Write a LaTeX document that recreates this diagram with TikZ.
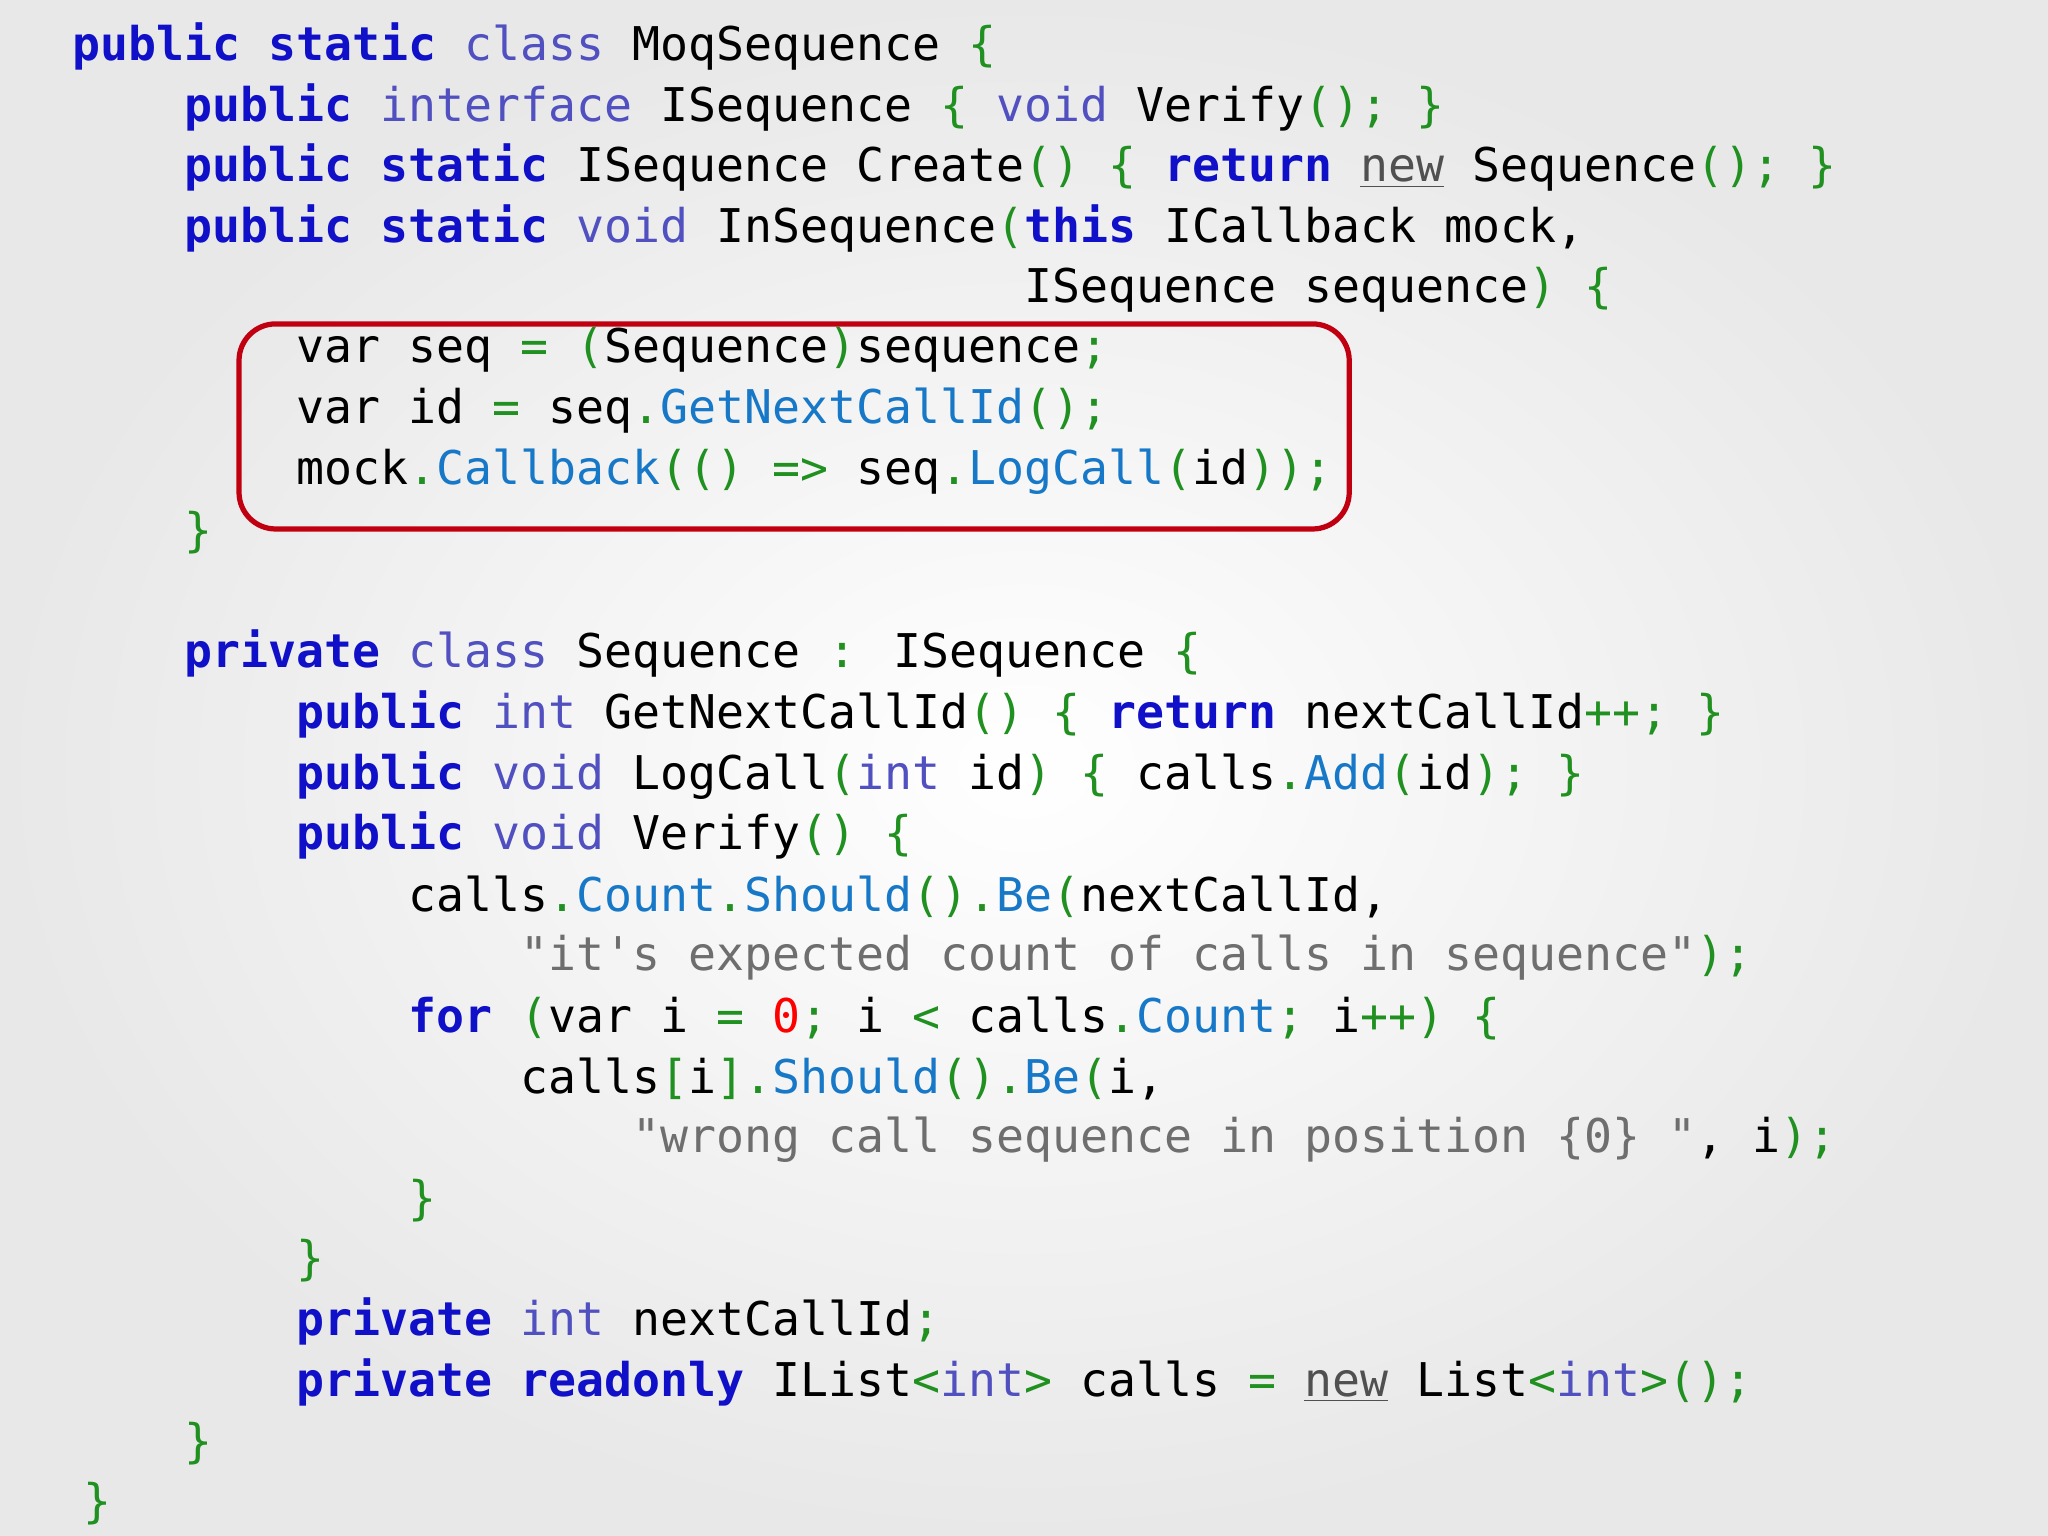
\documentclass[tikz,border=0pt]{standalone}
\usepackage{fontspec}
\newfontfamily\codefont{DejaVu Sans Mono}
\definecolor{kw}{HTML}{1010C8}
\definecolor{ty}{HTML}{5050C0}
\definecolor{me}{HTML}{1878C8}
\definecolor{pu}{HTML}{209020}
\definecolor{st}{HTML}{6E6E6E}
\definecolor{nw}{HTML}{505050}
\definecolor{bx}{HTML}{C00010}
\newcommand\Kw[1]{\textcolor{kw}{\bfseries #1}}
\newcommand\Ty[1]{\textcolor{ty}{#1}}
\newcommand\Me[1]{\textcolor{me}{#1}}
\newcommand\Pu[1]{\textcolor{pu}{#1}}
\newcommand\St[1]{\textcolor{st}{#1}}
\newcommand\Nw{\textcolor{nw}{\underline{new}}}
\newcommand\CodeLn[3]{\node[ln] (l#1) at ({55+#2*21.45},{35.5+#1*46.5}) {#3};}
\begin{document}
\begin{tikzpicture}[x=0.5pt,y=-0.5pt,
  ln/.style={anchor=west,inner sep=0pt,font=\codefont\fontsize{17.8}{20}\selectfont}]
\shade[inner color=white,outer color=gray!18] (0,0) rectangle (1568,1176);
\useasboundingbox (0,0) rectangle (1568,1176);
\CodeLn{0}{0}{\Kw{public} \Kw{static} \Ty{class} MoqSequence \Pu{\{}}
\CodeLn{1}{4}{\Kw{public} \Ty{interface} ISequence \Pu{\{} \Ty{void} Verify\Pu{();} \Pu{\}}}
\CodeLn{2}{4}{\Kw{public} \Kw{static} ISequence Create\Pu{()} \Pu{\{} \Kw{return} \Nw{} Sequence\Pu{();} \Pu{\}}}
\CodeLn{3}{4}{\Kw{public} \Kw{static} \Ty{void} InSequence\Pu{(}\Kw{this} ICallback mock,}
\CodeLn{4}{34}{ISequence sequence\Pu{)} \Pu{\{}}
\CodeLn{5}{8}{var seq \Pu{=} \Pu{(}Sequence\Pu{)}sequence\Pu{;}}
\CodeLn{6}{8}{var id \Pu{=} seq\Pu{.}\Me{GetNextCallId}\Pu{();}}
\CodeLn{7}{8}{mock\Pu{.}\Me{Callback}\Pu{(() =>} seq\Pu{.}\Me{LogCall}\Pu{(}id\Pu{));}}
\CodeLn{8}{4}{\Pu{\}}}
\CodeLn{10}{4}{\Kw{private} \Ty{class} Sequence \Pu{:} ISequence \Pu{\{}}
\CodeLn{11}{8}{\Kw{public} \Ty{int} GetNextCallId\Pu{()} \Pu{\{} \Kw{return} nextCallId\Pu{++;} \Pu{\}}}
\CodeLn{12}{8}{\Kw{public} \Ty{void} LogCall\Pu{(}\Ty{int} id\Pu{)} \Pu{\{} calls\Pu{.}\Me{Add}\Pu{(}id\Pu{);} \Pu{\}}}
\CodeLn{13}{8}{\Kw{public} \Ty{void} Verify\Pu{()} \Pu{\{}}
\CodeLn{14}{12}{calls\Pu{.}\Me{Count}\Pu{.}\Me{Should}\Pu{().}\Me{Be}\Pu{(}nextCallId,}
\CodeLn{15}{16}{\St{"it\textquotesingle s expected count of calls in sequence"}\Pu{);}}
\CodeLn{16}{12}{\Kw{for} \Pu{(}var i \Pu{=} \textcolor{red}{0}\Pu{;} i \Pu{<} calls\Pu{.}\Me{Count}\Pu{;} i\Pu{++)} \Pu{\{}}
\CodeLn{17}{16}{calls\Pu{[}i\Pu{].}\Me{Should}\Pu{().}\Me{Be}\Pu{(}i,}
\CodeLn{18}{20}{\St{"wrong call sequence in position \{0\} "}, i\Pu{);}}
\CodeLn{19}{12}{\Pu{\}}}
\CodeLn{20}{8}{\Pu{\}}}
\CodeLn{21}{8}{\Kw{private} \Ty{int} nextCallId\Pu{;}}
\CodeLn{22}{8}{\Kw{private} \Kw{readonly} IList\Pu{<}\Ty{int}\Pu{>} calls \Pu{=} \Nw{} List\Pu{<}\Ty{int}\Pu{>();}}
\CodeLn{23}{4}{\Pu{\}}}
\CodeLn{24}{0.4}{\Pu{\}}}
\draw[bx,line width=2pt,rounded corners=14] (183,248) rectangle (1033,405);
\end{tikzpicture}
\end{document}
